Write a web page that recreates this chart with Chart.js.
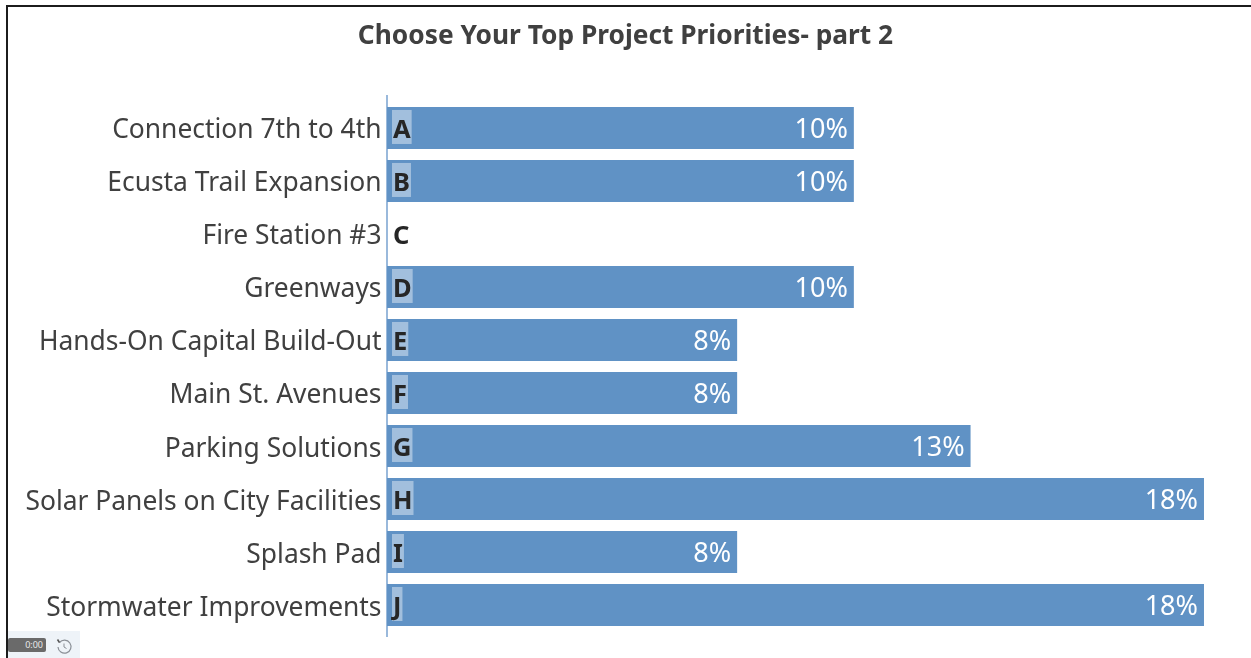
<!DOCTYPE html>
<html><head><meta charset="utf-8">
<style>
html,body{margin:0;padding:0;background:#fff;width:1251px;height:658px;overflow:hidden}
#wrap{position:absolute;left:0;top:0;width:1251px;height:658px}
canvas{position:absolute;left:0;top:0;filter:blur(0.45px)}
#frameT{position:absolute;left:6px;top:5px;width:1245px;height:2px;background:#1c1c1c}
#frameL{position:absolute;left:6px;top:5px;width:2px;height:653px;background:#1c1c1c}
#ctl{position:absolute;left:8px;top:631px;width:72px;height:27px;background:#eef3f8}
#time{position:absolute;left:0;top:7px;width:38px;height:14px;background:#6a6a6a;border-radius:2px;color:#e8e8e8;font:9px "Noto Sans",sans-serif;line-height:14px;text-align:right;padding-right:0}
#time span{margin-right:3px}
#ctl svg{position:absolute;left:46px;top:5px}
</style></head><body>
<div id="wrap"><canvas id="c" width="1251" height="658"></canvas>
<div id="frameT"></div><div id="frameL"></div>
<div id="ctl"><div id="time"><span>0:00</span></div>
<svg width="20" height="20" viewBox="0 0 20 20"><path d="M5.5 6.5A6.5 6.5 0 1 1 4 11" fill="none" stroke="#8a8f96" stroke-width="1.2"/><path d="M3.5 3.5l2 3.2" stroke="#555" stroke-width="1.6"/><path d="M10 7.5v3.5l2.5 1.5" fill="none" stroke="#8a8f96" stroke-width="1"/></svg></div>
</div>
<script src="https://cdn.jsdelivr.net/npm/chart.js@4/dist/chart.umd.min.js"></script>
<script>
const chartTitle = "Choose Your Top Project Priorities- part 2";
const categories = ["Connection 7th to 4th","Ecusta Trail Expansion","Fire Station #3","Greenways","Hands-On Capital Build-Out","Main St. Avenues","Parking Solutions","Solar Panels on City Facilities","Splash Pad","Stormwater Improvements"];
const letters = ["A","B","C","D","E","F","G","H","I","J"];
const shares = [10,10,0,10,7.5,7.5,12.5,17.5,7.5,17.5];
const shareLabels = ["10%","10%","","10%","8%","8%","13%","18%","8%","18%"];
const axisMax = 18.507;
const FONT = '"Noto Sans", sans-serif';
const overlay = {
  id:'overlay',
  beforeDatasetsDraw(ch){
    const c=ch.ctx, a=ch.chartArea, x0=ch.scales.x.getPixelForValue(0);
    c.save(); c.strokeStyle='#8fb2d8'; c.lineWidth=1.8;
    c.beginPath(); c.moveTo(x0,a.top-6.5); c.lineTo(x0,a.bottom+5.5); c.stroke(); c.restore();
  },
  afterDatasetsDraw(ch){
    const c=ch.ctx, y=ch.scales.y, x=ch.scales.x;
    c.save(); c.textBaseline='middle';
    letters.forEach((L,i)=>{
      const yp=y.getPixelForValue(i), x0=x.getPixelForValue(0);
      c.font='700 25.5px '+FONT; c.textAlign='left';
      const w=c.measureText(L).width;
      if(shares[i]>0){ c.fillStyle='rgba(255,255,255,0.42)'; c.fillRect(x0+5,yp-18,w+2,34); }
      c.fillStyle='#262626'; c.fillText(L,x0+6,yp+3);
      if(shareLabels[i]){
        c.font='400 27px '+FONT; c.textAlign='right'; c.fillStyle='#ffffff';
        c.fillText(shareLabels[i],x.getPixelForValue(shares[i])-6,yp+2);
      }
    });
    c.restore();
  }
};
new Chart(document.getElementById('c'),{
  type:'bar',
  data:{labels:categories,datasets:[{data:shares,backgroundColor:'#6092c5',barPercentage:0.79,categoryPercentage:1}]},
  plugins:[overlay],
  options:{
    indexAxis:'y',responsive:false,animation:false,
    layout:{padding:{left:0,right:0,top:0,bottom:26.5}},
    plugins:{legend:{display:false},tooltip:{enabled:false},
      title:{display:true,text:chartTitle,color:'#404040',font:{family:FONT,size:26.3,weight:'700',lineHeight:1.2},padding:{top:21,bottom:48.9}}},
    scales:{
      x:{display:false,min:0,max:axisMax},
      y:{afterFit(s){s.width=387;},
        afterUpdate(s){const d=s.drawLabels;s.drawLabels=function(a){s.ctx.save();s.ctx.translate(0,3);d.call(s,a);s.ctx.restore();};},
        grid:{display:false,drawTicks:false},border:{display:false},
        ticks:{color:'#404040',font:{family:FONT,size:26.4},padding:5.5,autoSkip:false}}
    }
  }
});
</script></body></html>
